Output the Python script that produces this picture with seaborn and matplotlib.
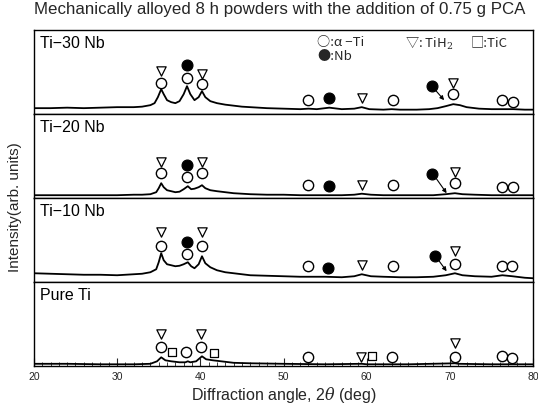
import matplotlib
matplotlib.use("Agg")
import matplotlib.pyplot as plt
import seaborn as sns
import pandas as pd

# ---------------- data ----------------
panel_names = ["Ti\u221230 Nb", "Ti\u221220 Nb", "Ti\u221210 Nb", "Pure Ti"]

ti30_angle = [20, 22, 24, 26, 28, 30, 32, 33, 34, 34.5, 34.9, 35.3, 35.6, 36.0, 36.5, 37.0, 37.5, 38.0,
              38.4, 38.8, 39.3, 39.8, 40.2, 40.6, 41.2, 42, 43, 44, 45, 46, 48, 50, 52, 53, 54, 55.5,
              57, 58.5, 59.4, 60.3, 62, 63, 64, 66, 67.5, 68.5, 69.5, 70.4, 71.2, 72, 73.5, 75, 76.3,
              77.6, 79, 80]
ti30_int = [6, 6, 6.5, 6, 6.5, 7, 7, 7.5, 9, 11, 17, 25, 20, 14, 12, 11, 13, 20,
            28, 20, 14, 17, 23, 17, 13, 11, 9.5, 8.5, 7.5, 7, 6, 5.5, 5, 5.5, 5, 6.5,
            5, 5.5, 7, 5, 4.5, 5, 4.5, 4.5, 5, 6, 8, 10, 9, 7, 5.5, 5, 5,
            5, 4.5, 4.5]

ti20_angle = [20, 22, 24, 26, 28, 30, 32, 33, 34, 34.7, 35.0, 35.3, 35.6, 36.0, 36.5, 37.0, 37.5, 38.0,
              38.5, 38.9, 39.3, 39.8, 40.2, 40.6, 41.2, 42, 43, 44, 45, 46, 48, 50, 52, 53, 55, 57,
              58.5, 59.4, 60.5, 62, 64, 66, 68, 69.5, 70.6, 71.5, 73, 75, 77, 79, 80]
ti20_int = [3, 3, 3, 3, 3, 3, 3.5, 3.5, 4, 6, 10, 15, 11, 8, 7, 6, 6.5, 9,
            12, 9, 9.5, 11, 13, 10, 8, 7, 6, 5, 4.5, 4, 3.5, 3.5, 3, 3, 3, 3,
            3.5, 4.5, 3.5, 3, 3, 3, 3, 4, 5, 4, 3.5, 3, 3, 3, 3]

ti10_angle = [20, 22, 24, 26, 28, 30, 32, 33, 34, 34.7, 35.0, 35.3, 35.6, 36.0, 36.5, 37.0, 37.5, 38.0,
              38.5, 38.9, 39.3, 39.8, 40.2, 40.6, 41.2, 42, 43, 44, 45, 46, 48, 50, 52, 53, 55, 57,
              58.5, 59.4, 60.5, 62, 64, 66, 68, 69.5, 70.6, 71.5, 73, 75, 76.3, 77.5, 79, 80]
ti10_int = [9, 8.5, 8, 7.5, 7.5, 7, 8, 8.5, 10, 13, 20, 29, 22, 18, 17, 16, 16.5, 18,
            20, 16, 14, 18, 26, 19, 15, 12, 10, 9, 8, 7, 6.5, 6, 5.5, 5.5, 5.5, 5,
            6, 8, 6, 5.5, 5, 5, 5.5, 7, 9, 7, 6, 5.5, 7, 6, 4.5, 4]

ti_angle = [20, 24, 28, 32, 34, 34.8, 35.3, 35.8, 36.5, 37.5, 38.2, 38.5, 38.8, 39.5, 40.2, 40.7,
            41.5, 42.5, 44, 46, 50, 55, 59.4, 60, 65, 70.6, 71, 75, 80]
ti_int = [2.5, 2.5, 2, 2, 2.5, 5, 9, 6, 5, 4, 4, 5, 4, 5, 10, 7,
          6, 5, 3.5, 3, 2.5, 2, 2.5, 2, 2, 3, 2.5, 2, 2]

# phase markers (angle, height) per panel
alpha_x = [[35.3, 38.4, 40.2, 53.0, 63.1, 70.4, 76.3, 77.6],
           [35.3, 38.4, 40.2, 53.0, 63.1, 70.6, 76.3, 77.6],
           [35.3, 38.4, 40.2, 53.0, 63.1, 70.6, 76.3, 77.5],
           [35.3, 38.3, 40.1, 53.0, 63.0, 70.6, 76.2, 77.5]]
alpha_y = [[31, 36, 30, 14, 14, 20, 14, 12],
           [25, 21, 25, 13, 13, 15, 11, 11],
           [36, 28, 36, 16, 16, 18, 16, 16],
           [19, 14, 19, 9, 9, 9, 10, 8]]
tih2_x = [[35.3, 40.2, 59.4, 70.4],
          [35.3, 40.2, 59.4, 70.6],
          [35.3, 40.2, 59.4, 70.6],
          [35.3, 40.1, 59.3, 70.6]]
tih2_y = [[43, 40, 16, 31],
          [36, 36, 13, 26],
          [50, 50, 17, 31],
          [32, 32, 9, 23]]
nb_x = [[38.4, 55.5, 67.8], [38.4, 55.5, 67.9], [38.4, 55.3, 68.2], []]
nb_y = [[49, 16, 28], [33, 12, 24], [40, 14, 26], []]
nb_arrow_tip_x = [69.3, 69.6, 69.6]
nb_arrow_tip_y = [14, 5, 11]
tic_x = [[], [], [], [36.6, 41.6, 60.6]]
tic_y = [[], [], [], [14, 13, 10]]

x_ticks = [20, 30, 40, 50, 60, 70, 80]

# ---------------- style ----------------
sns.set_theme(style="ticks")
plt.rcParams["font.family"] = ["Liberation Sans", "Noto Sans CJK JP", "DejaVu Sans"]
plt.rcParams["mathtext.fontset"] = "dejavuserif"
legend_family = ["Noto Sans CJK JP", "DejaVu Sans"]

fig, axes = plt.subplots(4, 1, figsize=(5.38, 4.07), dpi=100, sharex=True)
fig.subplots_adjust(left=0.063, right=0.991, top=0.926, bottom=0.1, hspace=0)

spectra = [(ti30_angle, ti30_int), (ti20_angle, ti20_int), (ti10_angle, ti10_int), (ti_angle, ti_int)]

for i, ax in enumerate(axes):
    xa, ya = spectra[i]
    df = pd.DataFrame({"angle": xa, "intensity": ya})
    sns.lineplot(data=df, x="angle", y="intensity", ax=ax, color="black", lw=1.3)
    sns.scatterplot(x=alpha_x[i], y=alpha_y[i], ax=ax, marker="o", s=55,
                    facecolor="white", edgecolor="black", linewidth=1.0, zorder=5)
    sns.scatterplot(x=tih2_x[i], y=tih2_y[i], ax=ax, marker="v", s=45,
                    facecolor="white", edgecolor="black", linewidth=0.9, zorder=5)
    if nb_x[i]:
        sns.scatterplot(x=nb_x[i], y=nb_y[i], ax=ax, marker="o", s=62,
                        facecolor="black", edgecolor="black", linewidth=0.8, zorder=5)
        ax.annotate("", xy=(nb_arrow_tip_x[i], nb_arrow_tip_y[i]),
                    xytext=(nb_x[i][-1] + 0.3, nb_y[i][-1] - 2.5),
                    arrowprops=dict(arrowstyle="-|>", lw=0.8, color="black",
                                    shrinkA=0, shrinkB=0, mutation_scale=6))
    if tic_x[i]:
        sns.scatterplot(x=tic_x[i], y=tic_y[i], ax=ax, marker="s", s=38,
                        facecolor="white", edgecolor="black", linewidth=0.9, zorder=5)
    ax.set_xlim(20, 80)
    ax.set_ylim(0, 84)
    ax.set_yticks([])
    ax.set_xlabel("")
    ax.set_ylabel("")
    for sp in ax.spines.values():
        sp.set_visible(True)
        sp.set_linewidth(1.0)
        sp.set_color("black")
    ax.text(0.012, 0.93, panel_names[i], transform=ax.transAxes, ha="left", va="top",
            fontsize=11.5, color="black")
    ax.tick_params(axis="x", which="both", direction="in", bottom=(i == 3), top=False,
                   labelbottom=(i == 3))

ax = axes[-1]
ax.set_xticks(x_ticks)
ax.set_xticks(range(20, 81), minor=True)
ax.tick_params(axis="x", which="major", length=6, width=0.8, labelsize=7.5, pad=4)
ax.tick_params(axis="x", which="minor", length=3, width=0.6)
ax.set_xlabel(r"Diffraction angle, 2$\theta$ (deg)", fontsize=11.5, labelpad=2)

fig.text(0.028, 0.49, "Intensity(arb. units)", rotation=90, ha="center", va="center", fontsize=11)
fig.suptitle("Mechanically alloyed 8 h powders with the addition of 0.75 g PCA",
             x=0.519, y=0.995, ha="center", va="top", fontsize=12.2)

# legend text inside top panel
top = axes[0]
top.text(0.568, 0.93, "\u25CB:\u03B1 \u2212Ti", transform=top.transAxes, ha="left", va="top",
         fontsize=9.5, family=legend_family)
top.text(0.743, 0.93, "\u25BD: TiH$_2$", transform=top.transAxes, ha="left", va="top",
         fontsize=9.5, family=legend_family)
top.text(0.874, 0.93, "\u25A1:TiC", transform=top.transAxes, ha="left", va="top",
         fontsize=9.5, family=legend_family)
top.text(0.568, 0.76, "\u25CF:Nb", transform=top.transAxes, ha="left", va="top",
         fontsize=9.5, family=legend_family)

fig.savefig("out.png", dpi=100)
